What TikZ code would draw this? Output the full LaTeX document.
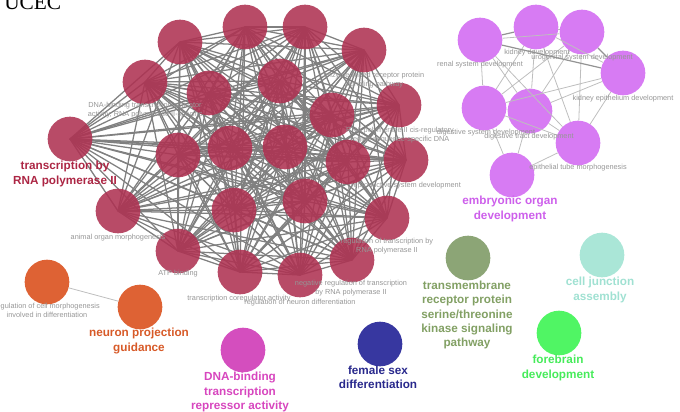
\documentclass[tikz,border=0pt]{standalone}
\usepackage{fontspec}
\setmainfont{Liberation Sans}
\newfontfamily\titlefont{Liberation Serif}
\definecolor{nodeRed}{RGB}{174,50,82}
\definecolor{nodePurple}{RGB}{212,112,242}
\definecolor{nodeOrange}{RGB}{222,98,52}
\definecolor{nodePink}{RGB}{212,78,190}
\definecolor{nodeNavy}{RGB}{55,55,160}
\definecolor{nodeSage}{RGB}{140,165,118}
\definecolor{nodeTeal}{RGB}{170,230,215}
\definecolor{nodeGreen}{RGB}{80,245,100}
\definecolor{txtRed}{RGB}{172,38,68}
\definecolor{txtPurple}{RGB}{205,95,235}
\definecolor{txtOrange}{RGB}{215,90,40}
\definecolor{txtPink}{RGB}{215,70,190}
\definecolor{txtNavy}{RGB}{40,40,140}
\definecolor{txtSage}{RGB}{130,160,100}
\definecolor{txtTeal}{RGB}{160,225,210}
\definecolor{txtGreen}{RGB}{70,235,90}
\definecolor{edgeGray}{RGB}{128,128,128}
\definecolor{edgeLight}{RGB}{190,190,190}
\definecolor{labelGray}{RGB}{150,150,150}
\begin{document}
\begin{tikzpicture}[x=0.75pt,y=-0.75pt,
  term/.style={circle,minimum size=33.5pt,inner sep=0pt,draw=none},
  redterm/.style={term,fill=nodeRed,fill opacity=0.88},
  purpleterm/.style={term,fill=nodePurple,fill opacity=0.92},
  edge/.style={draw=edgeGray,line width=0.95pt},
  lightedge/.style={draw=edgeLight,line width=0.6pt},
  darkedge/.style={draw=edgeGray!85,line width=0.9pt},
  tiny/.style={font=\fontsize{5.5}{6.8}\selectfont,text=labelGray,align=center,inner sep=0pt},
  big/.style={font=\fontsize{8.8}{10.8}\selectfont\bfseries,align=center,inner sep=0pt},
]
\useasboundingbox (0,0) rectangle (680,411);

% ---------- term positions ----------
% transcription cluster
\coordinate (c1) at (180,42);  \coordinate (c2) at (245,27);
\coordinate (c3) at (305,27);  \coordinate (c4) at (364,50);
\coordinate (c5) at (145,82);  \coordinate (c6) at (209,93);
\coordinate (c7) at (280,81);  \coordinate (c8) at (332,115);
\coordinate (c9) at (399,105); \coordinate (c10) at (70,139);
\coordinate (c11) at (178,155);\coordinate (c12) at (230,148);
\coordinate (c13) at (285,147);\coordinate (c14) at (348,162);
\coordinate (c15) at (406,160);\coordinate (c16) at (118,211);
\coordinate (c17) at (234,210);\coordinate (c18) at (305,201);
\coordinate (c19) at (387,218);\coordinate (c20) at (178,251);
\coordinate (c21) at (240,272);\coordinate (c22) at (300,275);
\coordinate (c23) at (352,260);

% ---------- edges of the transcription cluster (all pairs) ----------
\foreach \i in {1,...,22}{
  \pgfmathtruncatemacro\k{\i+1}
  \foreach \j in {\k,...,23}{
    \draw[edge] (c\i) -- (c\j);
  }
}
\foreach \i in {1,...,23}{
  \node[redterm] (r\i) at (c\i) {};
}

% ---------- embryonic organ cluster ----------
\node[purpleterm] (p1) at (480,40) {};
\node[purpleterm] (p2) at (536,27) {};
\node[purpleterm] (p3) at (582,32) {};
\node[purpleterm] (p4) at (623,73) {};
\node[purpleterm] (p5) at (484,108) {};
\node[purpleterm] (p6) at (530,111) {};
\node[purpleterm] (p7) at (578,143) {};
\node[purpleterm] (p8) at (512,175) {};
\foreach \a/\b in {p1/p3,p2/p4,p1/p5,p1/p6,p1/p7,p2/p5,p2/p6,p2/p7,p3/p5,p3/p6,p3/p7,
                   p4/p5,p4/p6,p4/p7,p5/p6,p5/p7,p5/p8,p6/p7,p6/p8,p7/p8}{
  \draw[lightedge] (\a) -- (\b);
}
\foreach \a/\b in {p1/p2,p1/p4,p2/p3,p3/p4}{
  \draw[darkedge] (\a) -- (\b);
}

% ---------- small clusters ----------
\node[term,fill=nodeOrange] (o1) at (47,282) {};
\node[term,fill=nodeOrange] (o2) at (140,307) {};
\draw[lightedge] (o1) -- (o2);
\node[term,fill=nodePink]  (pk) at (243,350) {};
\node[term,fill=nodeNavy]  (nv) at (380,344) {};
\node[term,fill=nodeSage]  (sg) at (468,258) {};
\node[term,fill=nodeTeal]  (tl) at (602,255) {};
\node[term,fill=nodeGreen] (gr) at (559,333) {};

% ---------- term labels ----------
\node[tiny] (l5)  at (145,110) {DNA-binding transcription activator\\activity, RNA polymerase II-specific};
\node[tiny] (l4)  at (374,80)  {enzyme linked receptor protein\\signaling pathway};
\node[tiny] (l9)  at (400,135) {RNA polymerase II cis-regulatory\\region sequence-specific DNA};
\node[tiny] (l15) at (406,186) {reproductive system development};
\node[tiny] (l19) at (387,246) {regulation of transcription by\\RNA polymerase II};
\node[tiny] (l23) at (351,288) {negative regulation of transcription\\by RNA polymerase II};
\node[tiny] (l21) at (239,299) {transcription coregulator activity};
\node[tiny] (l22) at (300,303) {regulation of neuron differentiation};
\node[tiny] (l20) at (178,274) {ATP binding};
\node[tiny] (l16) at (118,238) {animal organ morphogenesis};

\node[tiny] (lp1) at (480,65)  {renal system development};
\node[tiny] (lp2) at (537,53)  {kidney development};
\node[tiny] (lp3) at (582,58)  {urogenital system development};
\node[tiny] (lp4) at (623,99)  {kidney epithelium development};
\node[tiny] (lp5) at (486,133) {digestive system development};
\node[tiny] (lp6) at (529,137) {digestive tract development};
\node[tiny] (lp7) at (578,168) {epithelial tube morphogenesis};

\node[tiny] (lo1) at (47,310) {regulation of cell morphogenesis\\involved in differentiation};

% ---------- cluster titles ----------
\node[big,text=txtRed]    (tr) at (65,174)  {transcription by\\RNA polymerase II};
\node[big,text=txtPurple] (tp) at (510,209) {embryonic organ\\development};
\node[big,text=txtOrange] (to) at (139,341) {neuron projection\\guidance};
\node[big,text=txtPink]   (tk) at (240,392) {DNA-binding\\transcription\\repressor activity};
\node[big,text=txtNavy]   (tn) at (378,377) {female sex\\differentiation};
\node[big,text=txtSage]   (ts) at (467,315) {transmembrane\\receptor protein\\serine/threonine\\kinase signaling\\pathway};
\node[big,text=txtTeal]   (tt) at (600,290) {cell junction\\assembly};
\node[big,text=txtGreen]  (tg) at (558,368) {forebrain\\development};

\node[anchor=base west,inner sep=0pt,font=\titlefont\fontsize{16}{16}\selectfont] (title) at (4,9) {UCEC};
\end{tikzpicture}
\end{document}
